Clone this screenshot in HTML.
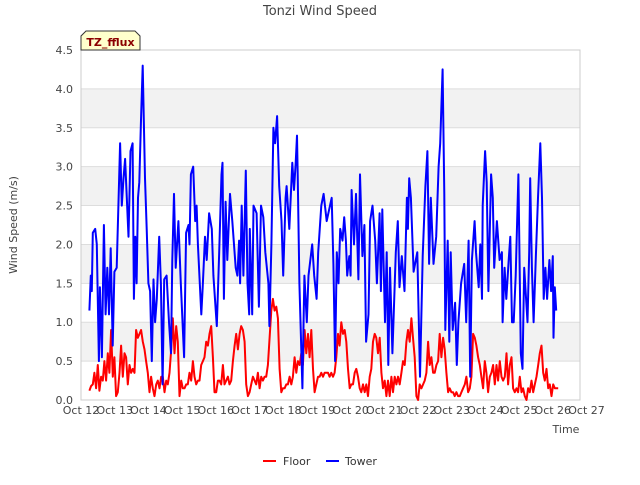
<!DOCTYPE html>
<html><head><meta charset="utf-8"><style>
body{margin:0;background:#fff;font-family:"Liberation Sans",sans-serif}
svg text{font-family:"DejaVu Sans","Liberation Sans",sans-serif}
</style></head><body>
<svg id="chart" width="640" height="480" xmlns="http://www.w3.org/2000/svg">
<g id="bands"></g>
<g id="grid"></g>
<rect x="81" y="50" width="499" height="350" fill="none" stroke="#ccc"/>
<g id="yt"></g>
<g id="xt"></g>
<g id="series"></g>
<text x="320" y="15" text-anchor="middle" font-size="13" fill="#444">Tonzi Wind Speed</text>
<text transform="translate(17,225) rotate(-90)" text-anchor="middle" font-size="11" fill="#444">Wind Speed (m/s)</text>
<text x="566" y="433" text-anchor="middle" font-size="11" fill="#444">Time</text>
<g>
<path d="M81,50 L81,36 L86,31 L135,31 L140,36 L140,50 Z" fill="#ffffcc" stroke="#333" stroke-width="1"/>
<text x="110.5" y="46" text-anchor="middle" font-size="11" font-weight="bold" fill="#8b0000">TZ_fflux</text>
</g>
<g>
<line x1="263" y1="461" x2="276" y2="461" stroke="#f00" stroke-width="2"/>
<text x="283" y="465" font-size="11" fill="#333">Floor</text></g>
<g>
<line x1="326" y1="461" x2="339" y2="461" stroke="#00f" stroke-width="2"/>
<text x="345" y="465" font-size="11" fill="#333">Tower</text></g>
</svg>
<script>
const yTicks=[0,0.5,1,1.5,2,2.5,3,3.5,4,4.5];
const xTickDays=[12,13,14,15,16,17,18,19,20,21,22,23,24,25,26,27];
const towerTimes=[12.25,12.29,12.32,12.35,12.42,12.47,12.53,12.56,12.62,12.68,12.73,12.78,12.83,12.88,12.94,12.99,13.06,13.16,13.21,13.26,13.31,13.36,13.41,13.47,13.53,13.57,13.61,13.65,13.69,13.73,13.78,13.83,13.9,13.95,14.0,14.05,14.1,14.15,14.2,14.25,14.32,14.37,14.42,14.47,14.54,14.61,14.67,14.71,14.76,14.81,14.89,14.96,15.06,15.12,15.19,15.22,15.26,15.33,15.39,15.43,15.47,15.57,15.61,15.68,15.73,15.8,15.88,15.93,16.03,16.1,16.17,16.2,16.24,16.29,16.34,16.42,16.49,16.59,16.64,16.69,16.72,16.77,16.82,16.89,16.94,16.99,17.01,17.08,17.12,17.21,17.28,17.34,17.41,17.47,17.56,17.59,17.65,17.71,17.76,17.82,17.88,17.95,18.0,18.07,18.1,18.18,18.27,18.32,18.37,18.41,18.43,18.48,18.57,18.63,18.7,18.75,18.86,18.92,18.99,19.04,19.13,19.2,19.29,
19.39,19.44,19.49,19.54,19.59,19.64,19.69,19.76,19.81,19.86,19.9,19.96,20.0,20.03,20.1,20.16,20.23,20.28,20.35,20.41,20.46,20.53,20.58,20.65,20.73,20.78,20.86,20.9,20.94,21.02,21.07,21.12,21.17,21.24,21.34,21.4,21.45,21.52,21.6,21.67,21.7,21.74,21.79,21.87,21.98,22.06,22.14,22.22,22.28,22.33,22.38,22.46,22.54,22.61,22.66,22.73,22.78,22.81,22.88,22.93,22.97,23.03,23.1,23.15,23.2,23.28,23.37,23.43,23.5,23.55,23.6,23.68,23.72,23.8,23.85,23.9,23.92,23.99,24.04,24.09,24.17,24.22,24.26,24.34,24.42,24.49,24.51,24.57,24.62,24.69,24.74,24.79,24.84,24.9,24.98,25.05,25.1,25.15,25.25,25.3,25.33,25.38,25.43,25.5,25.56,25.63,25.68,25.73,25.78,25.83,25.9,25.95,26.0,26.02,26.06,26.1];
const towerValues=[1.15,1.6,1.4,2.15,2.2,2.0,0.5,1.45,0.55,2.25,1.1,1.7,1.1,1.95,0.7,1.65,1.7,3.3,2.5,2.85,3.1,2.6,2.1,3.2,3.3,1.3,2.1,1.5,2.6,2.8,3.6,4.3,2.85,2.2,1.5,1.4,0.5,1.55,1.0,1.3,2.1,1.5,0.2,1.55,1.6,1.0,0.6,1.8,2.65,1.7,2.3,1.5,0.55,2.15,2.25,2.0,2.9,3.0,2.3,2.5,2.0,1.1,1.45,2.1,1.8,2.4,2.2,1.6,0.95,1.9,2.9,3.05,1.3,2.55,1.8,2.65,2.3,1.7,1.6,2.05,1.5,2.5,1.6,2.95,1.5,1.1,2.2,1.1,2.5,2.4,1.2,2.5,2.35,1.9,1.5,0.95,2.0,3.5,3.3,3.65,2.75,2.3,1.6,2.6,2.75,2.2,3.05,2.7,3.05,3.4,2.9,1.5,0.15,1.6,1.0,1.6,2.0,1.6,1.3,1.9,2.5,2.65,2.3,
2.5,2.6,1.75,0.5,1.9,1.5,2.2,2.05,2.35,2.05,1.6,1.85,1.6,2.7,2.0,2.65,1.55,2.9,1.85,2.25,0.75,1.1,2.3,2.5,2.05,1.5,2.4,1.4,2.45,1.0,1.9,0.45,1.7,0.6,1.9,2.3,1.45,1.85,1.4,2.6,2.2,2.85,2.6,1.65,1.9,0.3,1.85,2.75,3.2,1.75,2.6,1.75,2.1,3.0,3.3,4.25,2.65,0.9,2.05,0.75,1.9,0.9,1.25,0.45,1.0,1.5,1.75,1.0,2.05,0.3,1.8,2.3,1.9,1.45,2.0,1.3,2.5,3.2,2.8,1.4,2.9,2.6,1.7,2.3,1.8,1.9,1.0,1.7,1.3,1.8,2.1,1.0,1.0,1.6,2.9,0.6,0.4,1.7,1.0,1.9,2.85,1.7,1.0,1.9,2.6,3.3,2.6,1.3,1.7,1.3,1.8,1.4,1.85,0.8,1.45,1.15];
const floorStart=12.25, floorStep=0.0495;
const floorValues=[0.12,0.18,0.2,0.35,0.15,0.45,0.12,0.3,0.25,0.5,0.25,0.6,0.35,0.9,0.3,0.55,0.05,0.1,0.35,0.7,0.3,0.6,0.55,0.2,0.45,0.35,0.4,0.35,0.9,0.8,0.85,0.9,0.75,0.65,0.5,0.35,0.1,0.3,0.15,0.05,0.2,0.25,0.15,0.3,0.3,0.1,0.25,0.2,0.35,0.65,1.05,0.6,0.95,0.75,0.05,0.25,0.15,0.15,0.2,0.2,0.35,0.25,0.5,0.3,0.2,0.25,0.25,0.45,0.5,0.55,0.75,0.7,0.85,0.95,0.55,0.1,0.1,0.25,0.25,0.2,0.45,0.2,0.25,0.3,0.2,0.25,0.5,0.7,0.85,0.65,0.85,0.95,0.9,0.75,0.2,0.05,0.1,0.2,0.3,0.25,0.2,0.35,0.15,0.3,0.25,0.3,0.3,0.45,0.8,1.15,1.3,1.15,1.2,1.05,0.4,0.1,0.15,0.15,0.2,0.2,0.3,0.2,0.3,0.55,0.35,0.5,0.45,0.6,0.45,0.9,0.6,0.85,0.55,0.9,0.4,0.1,0.2,0.3,0.3,0.35,0.3,0.35,0.35,0.35,0.3,
0.35,0.3,0.35,0.55,0.85,0.7,1.0,0.85,0.9,0.75,0.4,0.15,0.2,0.2,0.35,0.4,0.3,0.15,0.1,0.2,0.1,0.2,0.05,0.3,0.4,0.75,0.85,0.8,0.6,0.8,0.35,0.15,0.25,0.05,0.25,0.05,0.3,0.1,0.3,0.2,0.3,0.2,0.35,0.5,0.45,0.75,0.9,0.75,1.05,0.8,0.55,0.05,0.0,0.2,0.15,0.2,0.25,0.35,0.75,0.45,0.55,0.35,0.35,0.45,0.5,0.85,0.55,0.8,0.65,0.35,0.1,0.15,0.1,0.1,0.05,0.1,0.05,0.05,0.1,0.15,0.2,0.3,0.1,0.15,0.3,0.85,0.8,0.7,0.55,0.45,0.3,0.15,0.5,0.35,0.1,0.3,0.35,0.45,0.2,0.45,0.25,0.5,0.3,0.25,0.3,0.6,0.2,0.45,0.55,0.15,0.1,0.15,0.1,0.3,0.1,0.15,0.05,0.0,0.15,0.1,0.25,0.1,0.2,0.3,0.45,0.6,0.7,0.35,0.25,0.4,0.15,0.2,0.05,0.2,0.15,0.15,0.15];
const NS='http://www.w3.org/2000/svg';
const X0=81,PXD=33.7,Y0=400,PYU=350/4.5;
function xs(d){return X0+(d-12)*PXD;}
function ys(v){return Y0-v*PYU;}
function mk(tag,attrs,parent){const e=document.createElementNS(NS,tag);for(const k in attrs)e.setAttribute(k,attrs[k]);parent.appendChild(e);return e;}
const bands=document.getElementById('bands'),grid=document.getElementById('grid'),yt=document.getElementById('yt'),xt=document.getElementById('xt'),ser=document.getElementById('series');
for(let i=0;i<yTicks.length-1;i++){
  if(i%2===1){const r=mk('rect',{x:X0,y:ys(yTicks[i+1]),width:499,height:ys(yTicks[i])-ys(yTicks[i+1]),fill:'#f2f2f2'},bands);
  
  }
}
yTicks.forEach(v=>{
  const l=mk('line',{x1:X0,x2:580,y1:ys(v),y2:ys(v),stroke:'#ddd','stroke-width':1},grid);
  
  
  const t=mk('text',{x:73,y:ys(v)+4,'text-anchor':'end','font-size':11,fill:'#444'},yt);
  t.textContent=v.toFixed(1);
  
  
});
xTickDays.forEach(d=>{
  const t=mk('text',{x:xs(d),y:414,'text-anchor':'middle','font-size':11,fill:'#444'},xt);
  t.textContent='Oct '+d;
  
  
});
function line(pts,color,name){
  const p=mk('polyline',{points:pts.map(q=>xs(q[0]).toFixed(1)+','+ys(q[1]).toFixed(1)).join(' '),fill:'none',stroke:color,'stroke-width':2,'stroke-linejoin':'round'},ser);
  
  
}
line(floorValues.map((v,i)=>[floorStart+i*floorStep,v]),'#f00','floor-line');
line(towerValues.map((v,i)=>[towerTimes[i],v]),'#00f','tower-line');
</script>
</body></html>
